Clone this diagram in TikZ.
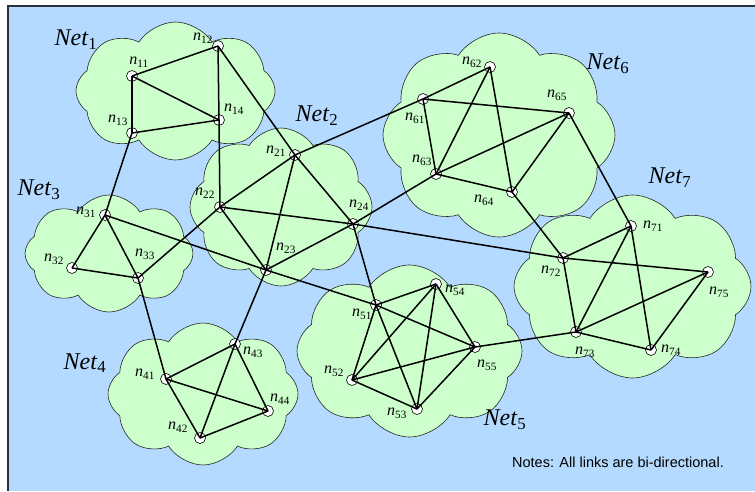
\documentclass[tikz,border=0pt]{standalone}
\usepackage{fontspec}
\setmainfont{Liberation Serif}
\newfontfamily\notefont{Liberation Sans}
\usetikzlibrary{shapes.symbols}
\definecolor{bgblue}{RGB}{180,219,255}
\definecolor{cloudgreen}{RGB}{204,255,204}
\definecolor{framegray}{RGB}{40,48,56}
\newcommand\hostname[1]{\textit{n}\textsubscript{#1}}
\newcommand\netname[1]{\textit{Net}\textsubscript{#1}}

\begin{document}
\begin{tikzpicture}[x=1pt,y=-1pt,
  netcloud/.style={cloud, cloud puffs=8, cloud puff arc=115, cloud ignores aspect,
    draw=black!85, line width=0.6pt, fill=cloudgreen, inner sep=0pt},
  host/.style={circle, draw=black, line width=0.6pt, fill=white,
    minimum size=11pt, inner sep=0pt},
  link/.style={line width=1.5pt, black},
  hostlabel/.style={font=\fontsize{16}{16}\selectfont, inner sep=0pt},
  netlabel/.style={font=\fontsize{24}{24}\selectfont, inner sep=0pt}]

% page and blue frame
\useasboundingbox (0,0) rectangle (755,491);
\fill[white] (0,0) rectangle (755,491);
\fill[bgblue] (8,6) rectangle (755,491);
\draw[framegray, line width=1.2pt] (8,491) -- (8,6) -- (755,6);

% network clouds
\node[netcloud, minimum width=199pt, minimum height=138pt] (c1) at (175.5,91) {};
\node[netcloud, minimum width=182pt, minimum height=158pt] (c2) at (281,207) {};
\node[netcloud, minimum width=168pt, minimum height=117pt] (c3) at (109,253.5) {};
\node[netcloud, minimum width=190pt, minimum height=142pt] (c4) at (203,394) {};
\node[netcloud, minimum width=225pt, minimum height=172pt] (c5) at (409.5,351) {};
\node[netcloud, minimum width=232pt, minimum height=204pt] (c6) at (499,135) {};
\node[netcloud, minimum width=237pt, minimum height=183pt] (c7) at (632.5,286.5) {};

% network names
\node[netlabel] (l1) at (76,40) {\netname{1}};
\node[netlabel] (l2) at (317,116) {\netname{2}};
\node[netlabel] (l3) at (39,190) {\netname{3}};
\node[netlabel] (l4) at (85,363) {\netname{4}};
\node[netlabel] (l5) at (505,420) {\netname{5}};
\node[netlabel] (l6) at (608,64) {\netname{6}};
\node[netlabel] (l7) at (670,178) {\netname{7}};

% hosts
\foreach \id/\x/\y in {11/132/76, 12/218/46, 13/132/133, 14/219/120,
    21/295/155, 22/220/207, 23/266/270, 24/353/224,
    31/105/215, 32/72/268, 33/138/278,
    41/166/379, 42/200/438, 43/235/344, 44/268/411,
    51/376/305, 52/352/380, 53/417/409, 54/436/284, 55/475/347,
    61/423/99, 62/490/67, 63/436/174, 64/512/192, 65/569/113,
    71/631/226, 72/563/258, 73/576/332, 74/651/350, 75/708/272}
  \node[host] (n\id) at (\x,\y) {};

% links
\foreach \a/\b in {n11/n12, n11/n13, n11/n14, n13/n14, n12/n14, n14/n22,
    n12/n21, n13/n31,
    n21/n22, n21/n23, n21/n24, n22/n23, n22/n24, n23/n24,
    n24/n63, n21/n61, n22/n33, n31/n23, n23/n51, n23/n43, n24/n51, n24/n72,
    n31/n32, n31/n33, n32/n33, n33/n41,
    n41/n42, n41/n43, n41/n44, n42/n43, n42/n44, n43/n44,
    n51/n52, n51/n53, n51/n54, n51/n55, n52/n53, n52/n54, n52/n55,
    n53/n54, n53/n55, n54/n55, n55/n73,
    n61/n62, n61/n63, n61/n65, n62/n63, n62/n64, n63/n64, n63/n65, n64/n65,
    n64/n72, n65/n71,
    n71/n72, n71/n73, n71/n74, n72/n73, n72/n75, n73/n74, n73/n75, n74/n75}
  \draw[link] (\a.center) -- (\b.center);

% host names
\foreach \id/\x/\y in {11/139/62, 12/203/38, 13/118/120, 14/234/109,
    21/276/151, 22/205/193, 23/286/248, 24/359/205,
    31/86/212, 32/54/259, 33/145/254,
    41/145/374, 42/178/427, 43/253/352, 44/280/399,
    51/362/314, 52/334/371, 53/397/413, 54/455/290, 55/487/365,
    61/415/118, 62/472/62, 63/422/160, 64/484/200, 65/557/95,
    71/653/226, 72/551/271, 73/585/352, 74/671/350, 75/719/292}
  \node[hostlabel] (t\id) at (\x,\y) {\hostname{\id}};

% note
\node[font=\notefont\fontsize{14.5}{14.5}\selectfont, inner sep=0pt] (note) at (618,462)
  {Notes: All links are bi-directional.};
\end{tikzpicture}
\end{document}
